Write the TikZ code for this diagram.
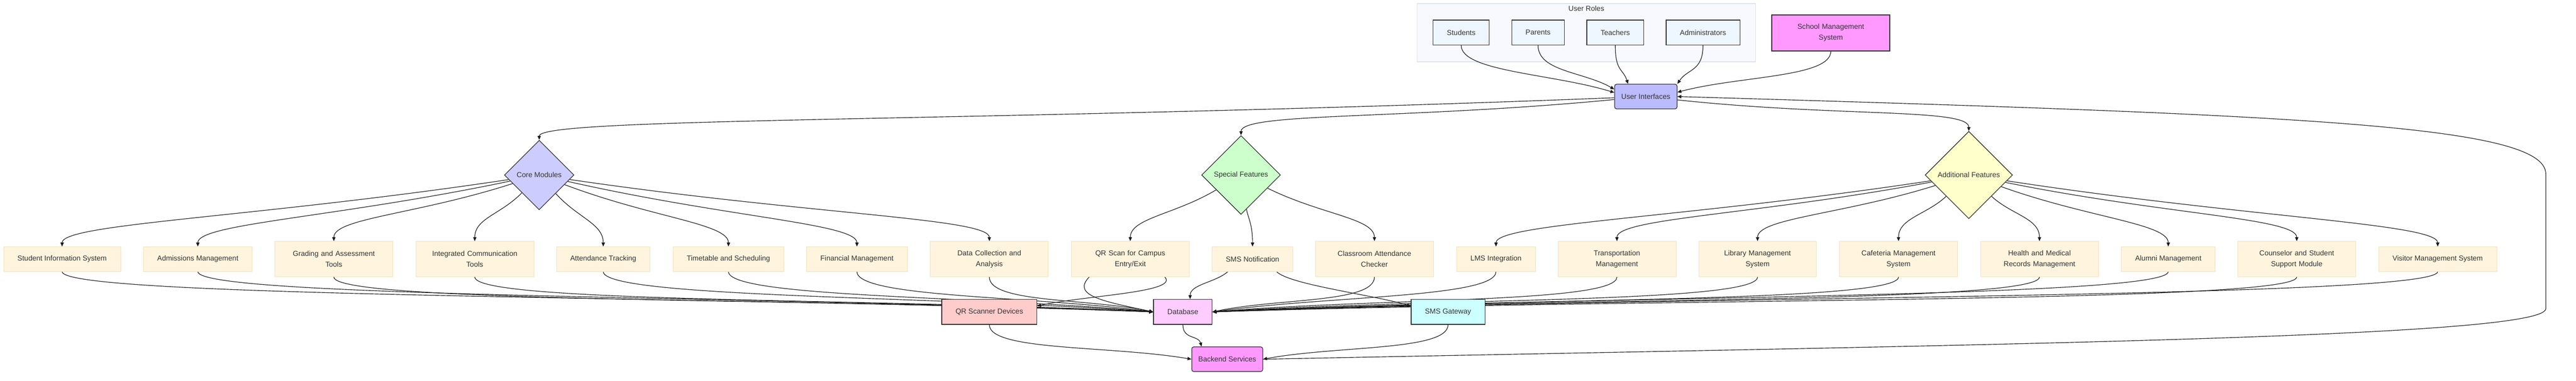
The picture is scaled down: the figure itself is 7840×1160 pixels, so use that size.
\documentclass[tikz,border=0pt]{standalone}
\usepackage{fontspec}
\setmainfont{Liberation Sans}
\usetikzlibrary{arrows.meta, positioning, shapes.geometric, calc, backgrounds}

\definecolor{ink}{HTML}{333333}
\definecolor{leaffill}{HTML}{FFF4DD}
\definecolor{leafline}{HTML}{F1E2BD}
\definecolor{rolefill}{HTML}{EEF6FF}
\definecolor{groupfill}{HTML}{F8F9FE}
\definecolor{groupline}{HTML}{DCE3F6}
\definecolor{sysfill}{HTML}{FF99FF}
\definecolor{uifill}{HTML}{BBBBFF}
\definecolor{corefill}{HTML}{CCCCFF}
\definecolor{specfill}{HTML}{CCFFCC}
\definecolor{addlfill}{HTML}{FFFFCC}
\definecolor{qrfill}{HTML}{FFCCCC}
\definecolor{dbfill}{HTML}{FFCCFF}
\definecolor{gwfill}{HTML}{CCFFFF}

\begin{document}
\begin{tikzpicture}[x=0.5pt, y=-0.5pt, font=\fontsize{11}{16.5}\selectfont,
  box/.style={rectangle, draw=ink, line width=1pt, text=ink, inner xsep=21pt, minimum height=38pt},
  role/.style={box, fill=rolefill},
  hub/.style={box, rounded corners=3pt, inner xsep=0pt, minimum height=37.5pt},
  choice/.style={diamond, draw=ink, line width=1pt, text=ink, inner sep=0pt},
  leaf/.style={rectangle, draw=leafline, line width=0.6pt, fill=leaffill, text=ink, inner xsep=21pt, minimum height=37.5pt},
  wide/.style={text width=137.5pt, align=center, minimum height=54pt},
  cluster/.style={rectangle, draw=groupline, line width=1pt, fill=groupfill, inner sep=0pt},
  link/.style={draw=black!90, line width=0.9pt, -{Triangle[length=6pt,width=5pt]}},
  fan/.style={link, to path={.. controls ($(\tikztostart)!0.6!(\tikztotarget)$) and +(0,-70) .. (\tikztotarget)}},
  sink/.style={link, to path={.. controls +(0,80) and ($(\tikztostart)!0.6!(\tikztotarget)$) .. (\tikztotarget)}}]
\useasboundingbox (0,0) rectangle (7840,1160);

% user roles group
\begin{scope}[on background layer]
  \node[cluster, minimum width=515pt, minimum height=88.5pt] (roles) at (4828,99.5) {};
\end{scope}
\node[text=ink, below=0pt of roles.north] (rolestitle) {User Roles};
\node[role] (stu) at (4447,99) {Students};
\node[role] (par) at (4681,99) {Parents};
\node[role] (tea) at (4916,99) {Teachers};
\node[role] (adm) at (5183,99) {Administrators};
\node[box, wide, fill=sysfill, line width=1.6pt, minimum height=54.5pt] (sys) at (5572,100) {School Management\\System};

\node[hub, fill=uifill, minimum width=95pt] (ui) at (5009,294) {User Interfaces};

% feature groups
\node[choice, fill=corefill, minimum width=106pt, minimum height=106pt] (core) at (1641,533) {Core Modules};
\node[choice, fill=specfill, minimum width=120pt, minimum height=120pt] (spec) at (3777,533) {Special Features};
\node[choice, fill=addlfill, minimum width=133pt, minimum height=133pt] (addl) at (5992,533) {Additional Features};

% modules
\node[leaf] (sis) at (189,789) {Student Information System};
\node[leaf] (adms) at (602,789) {Admissions Management};
\node[leaf, wide] (grad) at (1016,789) {Grading and Assessment\\Tools};
\node[leaf, wide] (comm) at (1445,789) {Integrated Communication\\Tools};
\node[leaf] (attn) at (1836,789) {Attendance Tracking};
\node[leaf] (time) at (2217,789) {Timetable and Scheduling};
\node[leaf] (fin) at (2608,789) {Financial Management};
\node[leaf, wide] (data) at (3011,789) {Data Collection and\\Analysis};
\node[leaf, wide] (qrs) at (3440,789) {QR Scan for Campus\\Entry/Exit};
\node[leaf] (smsn) at (3812,789) {SMS Notification};
\node[leaf, wide] (clas) at (4183,789) {Classroom Attendance\\Checker};
\node[leaf] (lms) at (4553,789) {LMS Integration};
\node[leaf, wide] (trans) at (4921,789) {Transportation\\Management};
\node[leaf, wide] (lib) at (5349,789) {Library Management\\System};
\node[leaf, wide] (caf) at (5778,789) {Cafeteria Management\\System};
\node[leaf, wide] (health) at (6207,789) {Health and Medical\\Records Management};
\node[leaf] (alum) at (6599,789) {Alumni Management};
\node[leaf, wide] (couns) at (6990,789) {Counselor and Student\\Support Module};
\node[leaf] (visit) at (7419,789) {Visitor Management System};

% backend
\node[box, fill=qrfill] (qrd) at (3011,950) {QR Scanner Devices};
\node[box, fill=dbfill] (db) at (3600,950) {Database};
\node[box, fill=gwfill] (gw) at (4407,950) {SMS Gateway};
\node[hub, fill=sysfill, minimum width=108pt] (back) at (3735,1094) {Backend Services};

% connector ends
\coordinate (uiS) at ([yshift=6pt]ui.west);
\coordinate (uiP) at ([yshift=11pt]ui.west);
\coordinate (uiT) at ([xshift=-27pt]ui.north);
\coordinate (uiR) at ([yshift=6.5pt]ui.east);
\coordinate (qrsL) at ([xshift=-62.5pt]qrs.south);
\coordinate (qrsR) at ([xshift=52.5pt]qrs.south);
\coordinate (smsL) at ([xshift=-37.5pt]smsn.south);
\coordinate (smsR) at ([xshift=36.5pt]smsn.south);
\coordinate (qrdE) at ([yshift=9pt]qrd.east);
\coordinate (dbN) at ([xshift=11pt]db.north);
\coordinate (gwW) at ([yshift=9pt]gw.west);
\coordinate (backN) at ([xshift=-39pt]back.north);
\coordinate (lowturn) at (7748,940);
\coordinate (highturn) at (7748,530);

\begin{scope}[on background layer]
  \path (stu.south) edge[sink] (uiS) (par.south) edge[sink] (uiP)
    (tea.south) edge[sink] (uiT) (adm.south) edge[sink] (ui.north east)
    (sys.south) edge[sink] (uiR);
  \path (ui) edge[fan] (core.north) edge[fan] (spec.north) edge[fan] (addl.north);
  \path (core) edge[fan] (sis.north) edge[fan] (adms.north) edge[fan] (grad.north)
    edge[fan] (comm.north) edge[fan] (attn.north) edge[fan] (time.north)
    edge[fan] (fin.north) edge[fan] (data.north);
  \path (spec) edge[fan] (qrs.north) edge[fan] (smsn.north) edge[fan] (clas.north);
  \path (addl) edge[fan] (lms.north) edge[fan] (trans.north) edge[fan] (lib.north)
    edge[fan] (caf.north) edge[fan] (health.north) edge[fan] (alum.north)
    edge[fan] (couns.north) edge[fan] (visit.north);
  % modules to database
  \path (sis.south) edge[sink] (db.west) (adms.south) edge[sink] (db.west)
    (grad.south) edge[sink] (db.west) (comm.south) edge[sink] (db.west)
    (attn.south) edge[sink] (db.west) (time.south) edge[sink] (db.west)
    (fin.south) edge[sink] (db.west) (data.south) edge[sink] (db.west);
  \path (clas.south) edge[sink] (db.east) (lms.south) edge[sink] (db.east)
    (trans.south) edge[sink] (db.east) (lib.south) edge[sink] (db.east)
    (caf.south) edge[sink] (db.east) (health.south) edge[sink] (db.east)
    (alum.south) edge[sink] (db.east) (couns.south) edge[sink] (db.east)
    (visit.south) edge[sink] (db.east);
  \draw[link] (qrsL) .. controls +(-55,57) and +(-150,-32) .. (db.west);
  \draw[link] (qrsR) .. controls +(45,47) and +(144,-32) .. (qrdE);
  \draw[link] (smsL) .. controls +(-37,33) and +(0,-45) .. (dbN);
  \draw[link] (smsR) .. controls +(40,40) and +(-120,-35) .. (gwW);
  % backend
  \path (qrd.south) edge[sink] (back.west) (gw.south) edge[sink] (back.east);
  \draw[link] (db.south) .. controls +(0,45) and +(-10,-35) .. (backN);
  \draw[link] (back.east) .. controls (6000,1050) and (7748,1030) .. (lowturn) -- (highturn)
    .. controls (7748,380) and (7000,350) .. (ui.east);
\end{scope}
\end{tikzpicture}
\end{document}
